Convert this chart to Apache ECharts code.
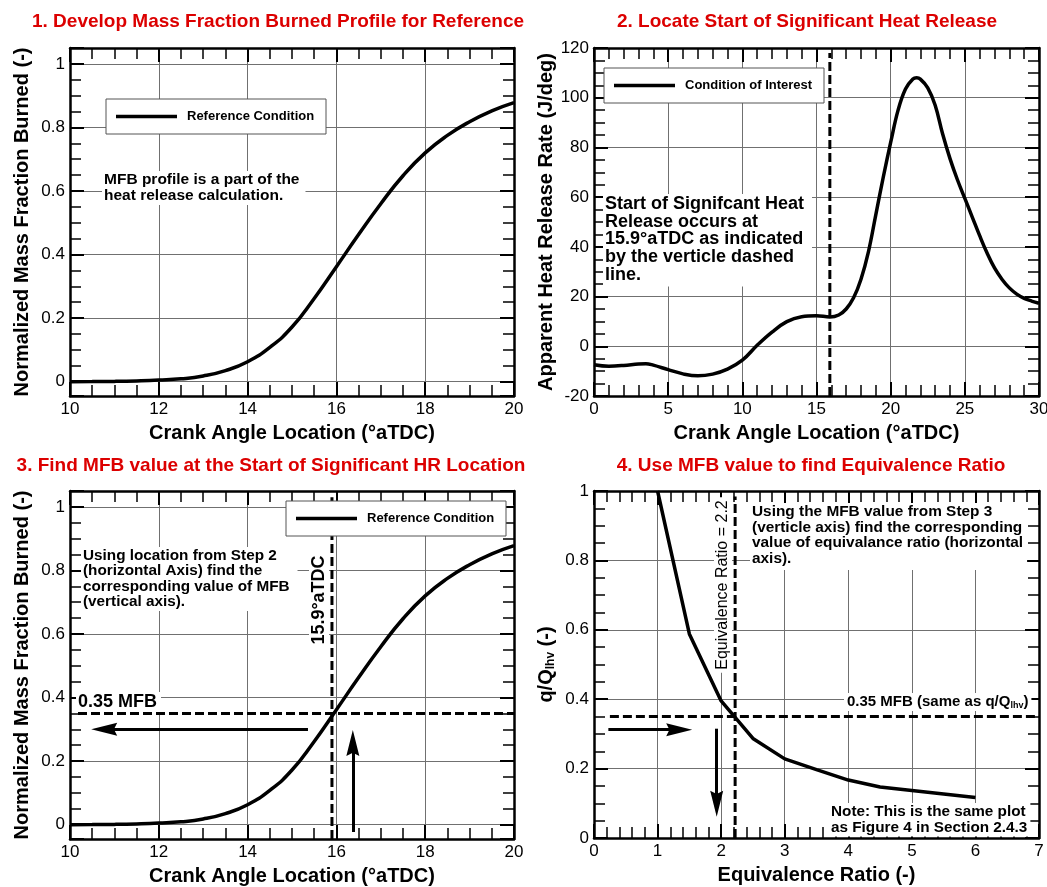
<!DOCTYPE html>
<html lang="en">
<head>
<meta charset="utf-8">
<title>MFB and Heat Release - Equivalence Ratio</title>
<script src="https://cdn.jsdelivr.net/npm/echarts@6/dist/echarts.min.js"></script>
<style>html,body{margin:0;padding:0;background:#fff;}</style>
</head>
<body>
<div id="main" style="width:1047px;height:887px;"></div>
<script type="text/javascript">
// panels 1 and 3: mass fraction burned, reference condition
var mfbAngle = [10, 10.5, 11, 11.5, 12, 12.5, 13, 13.5, 14, 14.5, 15, 15.5, 16, 16.5, 17, 17.5, 18, 18.5, 19, 19.5, 20];
var mfbValue = [0, 0.0004, 0.001, 0.0025, 0.005, 0.009, 0.018, 0.035, 0.063, 0.108, 0.172, 0.262, 0.362, 0.463, 0.56, 0.648, 0.72, 0.775, 0.818, 0.852, 0.878];

// panel 2: apparent heat release rate, condition of interest
var hrrAngle = [0, 1, 2, 3, 3.5, 4, 5, 6, 7, 8, 9, 10, 11, 12, 13, 14, 15, 15.9, 16.5, 17, 17.5, 18, 18.5, 19, 19.5, 20, 20.5, 21, 21.5, 21.75, 22, 22.5, 23, 23.5, 24, 24.5, 25, 25.5, 26, 26.5, 27, 27.5, 28, 28.5, 29, 29.5, 30];
var hrrValue = [-7.4, -8, -7.7, -7.1, -7, -7.6, -9.4, -11.1, -11.9, -11.2, -9.2, -5.6, 0.4, 5.7, 9.9, 11.9, 12.3, 11.8, 12.6, 15, 19.5, 27, 38, 53, 68, 82, 95, 103.5, 107.5, 108, 107.5, 104, 97, 85.5, 75.5, 67, 59.5, 52, 44.5, 37.5, 31.5, 27, 23.5, 21, 19.3, 18.2, 17.3];

// panel 4: q/Qlhv against equivalence ratio
var phiValue = [1, 1.5, 2, 2.5, 3, 3.5, 4, 4.5, 5, 5.5, 6];
var qRatio = [1.0, 0.588, 0.395, 0.287, 0.228, 0.197, 0.167, 0.147, 0.137, 0.127, 0.117];

// guide lines
var sohrAngle = 15.9;
var mfbAtSohr = 0.35;
var phiAtMfb = 2.22;
// arrows [x1, y1, x2, y2], the end point is the centre of the arrow head
var step3Arrows = [[15.36, 0.30, 10.77, 0.30], [16.37, -0.023, 16.37, 0.257]];
var step4Arrows = [[0.226, 0.312, 1.34, 0.312], [1.93, 0.315, 1.93, 0.099]];

var FONT = '"Liberation Sans", Arial, Helvetica, sans-serif';
var myChart = echarts.init(document.getElementById('main'));

function pairs(xs, ys) {
    return xs.map(function (x, i) { return [x, ys[i]]; });
}

function axis(grid, pos, min, max, step, minor, primary) {
    var a = {
        type: 'value', gridIndex: grid, position: pos, min: min, max: max,
        axisLine: {show: true, onZero: false, lineStyle: {color: '#000', width: 2.5}},
        axisTick: {show: true, inside: true, length: 14, lineStyle: {color: '#000', width: 2}},
        minorTick: {show: true, splitNumber: minor, length: 11, lineStyle: {color: '#000', width: 1.5}},
        splitLine: {show: primary, lineStyle: {color: '#707070', width: 1}},
        axisLabel: {show: primary, color: '#000', fontFamily: FONT, fontSize: 17, margin: 5}
    };
    if (Math.abs(min % step) < 1e-9) {
        a.interval = step;
    } else {
        a.splitNumber = 5;
        a.minInterval = step;
        a.maxInterval = step;
        a.axisLabel.formatter = function (v) {
            var r = Math.round(v / step);
            return Math.abs(v - r * step) < 1e-6 ? String(+v.toFixed(1)) : '';
        };
    }
    return a;
}

function named(a, name, gap) {
    a.name = name;
    a.nameLocation = 'middle';
    a.nameGap = gap;
    a.nameTextStyle = {color: '#000', fontFamily: FONT, fontSize: 20, fontWeight: 'bold'};
    return a;
}

function dashed(data, xi, yi) {
    return {
        type: 'line', xAxisIndex: xi, yAxisIndex: yi, data: data, symbol: 'none',
        lineStyle: {color: '#000', width: 3, type: [9, 4]}, z: 3
    };
}

function arrows(list) {
    return {
        silent: true, symbol: ['none', 'path://M5,0 L10,24 L5,21 L0,24 Z'], symbolSize: [13, 26],
        label: {show: false},
        lineStyle: {color: '#000', width: 3, type: 'solid'},
        data: list.map(function (a) { return [{coord: [a[0], a[1]]}, {coord: [a[2], a[3]]}]; })
    };
}

function note(x, y, text, size, lh, pad, weight) {
    return {
        type: 'text', x: x, y: y, z: 100,
        style: {
            text: text, fill: '#000', fontFamily: FONT, fontSize: size, fontWeight: weight || 'bold',
            lineHeight: lh, backgroundColor: '#fff', padding: pad, verticalAlign: 'top'
        }
    };
}

function vnote(x, y, text, size, weight) {
    return {
        type: 'text', x: x, y: y, z: 100, rotation: Math.PI / 2,
        style: {
            text: text, fill: '#000', fontFamily: FONT, fontSize: size, fontWeight: weight,
            backgroundColor: '#fff', padding: [1, 3], align: 'center', verticalAlign: 'middle'
        }
    };
}

function legendBox(x, y, label) {
    return [
        {type: 'rect', z: 100, shape: {x: x, y: y, width: 220, height: 35},
         style: {fill: '#fff', stroke: '#555', lineWidth: 1}},
        {type: 'line', z: 101, shape: {x1: x + 10, y1: y + 17.5, x2: x + 71, y2: y + 17.5},
         style: {stroke: '#000', lineWidth: 3.5}},
        {type: 'text', z: 101, x: x + 81, y: y + 17.5,
         style: {text: label, fill: '#000', fontFamily: FONT, fontSize: 13, fontWeight: 'bold', verticalAlign: 'middle'}}
    ];
}

var titleStyle = {color: '#dc0000', fontFamily: FONT, fontSize: 19, fontWeight: 'bold'};
var curveLine = {color: '#000', width: 3.5};

var option = {
    animation: false,
    backgroundColor: '#fff',
    title: [
        {text: '1. Develop Mass Fraction Burned Profile for Reference', left: 278, top: 12, textAlign: 'center', padding: 0, textStyle: titleStyle},
        {text: '2. Locate Start of Significant Heat Release', left: 807, top: 12, textAlign: 'center', padding: 0, textStyle: titleStyle},
        {text: '3. Find MFB value at the Start of Significant HR Location', left: 271, top: 456, textAlign: 'center', padding: 0, textStyle: titleStyle},
        {text: '4. Use MFB value to find Equivalence Ratio', left: 811, top: 456, textAlign: 'center', padding: 0, textStyle: titleStyle}
    ],
    grid: [
        {left: 70, top: 48, width: 444, height: 348, outerBoundsMode: 'none'},
        {left: 594, top: 48, width: 445, height: 348, outerBoundsMode: 'none'},
        {left: 70, top: 491, width: 444, height: 348, outerBoundsMode: 'none'},
        {left: 594, top: 491, width: 445, height: 347, outerBoundsMode: 'none'}
    ],
    xAxis: [
        named(axis(0, 'bottom', 10, 20, 2, 4, true), 'Crank Angle Location (\u00b0aTDC)', 27),
        named(axis(1, 'bottom', 0, 30, 5, 5, true), 'Crank Angle Location (\u00b0aTDC)', 27),
        named(axis(2, 'bottom', 10, 20, 2, 4, true), 'Crank Angle Location (\u00b0aTDC)', 27),
        named(axis(3, 'bottom', 0, 7, 1, 5, true), 'Equivalence Ratio (-)', 27),
        axis(0, 'top', 10, 20, 2, 4, false),
        axis(1, 'top', 0, 30, 5, 5, false),
        axis(2, 'top', 10, 20, 2, 4, false),
        axis(3, 'top', 0, 7, 1, 5, false)
    ],
    yAxis: [
        named(axis(0, 'left', -0.045, 1.05, 0.2, 4, true), 'Normalized Mass Fraction Burned (-)', 38),
        named(axis(1, 'left', -20, 120, 20, 4, true), 'Apparent Heat Release Rate (J/deg)', 38),
        named(axis(2, 'left', -0.045, 1.05, 0.2, 4, true), 'Normalized Mass Fraction Burned (-)', 38),
        named(axis(3, 'left', 0, 1, 0.2, 4, true), '{a|q/Q}{b|lhv}{a| (-)}', 36),
        axis(0, 'right', -0.045, 1.05, 0.2, 4, false),
        axis(1, 'right', -20, 120, 20, 4, false),
        axis(2, 'right', -0.045, 1.05, 0.2, 4, false),
        axis(3, 'right', 0, 1, 0.2, 4, false)
    ],
    series: [
        {name: 'Reference Condition', type: 'line', xAxisIndex: 0, yAxisIndex: 0, data: pairs(mfbAngle, mfbValue),
         symbol: 'none', smooth: 0.5, lineStyle: curveLine, z: 3},
        {name: 'Condition of Interest', type: 'line', xAxisIndex: 1, yAxisIndex: 1, data: pairs(hrrAngle, hrrValue),
         symbol: 'none', smooth: 0.4, lineStyle: curveLine, z: 3},
        dashed([[sohrAngle, -20], [sohrAngle, 118]], 1, 1),
        {name: 'Reference Condition', type: 'line', xAxisIndex: 2, yAxisIndex: 2, data: pairs(mfbAngle, mfbValue),
         symbol: 'none', smooth: 0.5, lineStyle: curveLine, z: 3,
         markLine: arrows(step3Arrows)},
        dashed([[10.18, mfbAtSohr], [20, mfbAtSohr]], 2, 2),
        dashed([[sohrAngle, -0.045], [sohrAngle, 1.03]], 2, 2),
        {name: 'q/Qlhv', type: 'line', xAxisIndex: 3, yAxisIndex: 3, data: pairs(phiValue, qRatio),
         symbol: 'none', lineStyle: curveLine, z: 3,
         markLine: arrows(step4Arrows)},
        dashed([[0.25, mfbAtSohr], [7, mfbAtSohr]], 3, 3),
        dashed([[phiAtMfb, 0], [phiAtMfb, 0.984]], 3, 3)
    ],
    graphic: [].concat(
        legendBox(106, 99, 'Reference Condition'),
        legendBox(604, 68, 'Condition of Interest'),
        legendBox(286, 501, 'Reference Condition'),
        [
            note(102, 171, 'MFB profile is a part of the\nheat release calculation.', 15.5, 16, [1, 6, 1, 2]),
            note(603, 194, 'Start of Signifcant Heat\nRelease occurs at\n15.9\u00b0aTDC as indicated\nby the verticle dashed\nline.', 18, 17.7, [1, 8, 3, 2]),
            note(81, 547, 'Using location from Step 2\n(horizontal Axis) find the\ncorresponding value of MFB\n(vertical axis).', 15.3, 15.5, [1, 8, 1, 2]),
            note(750, 503, 'Using the MFB value from Step 3\n(verticle axis) find the corresponding\nvalue of equivalance ratio (horizontal\naxis).', 15.4, 15.5, [1, 4, 4, 2]),
            note(829, 803, 'Note: This is the same plot\nas Figure 4 in Section 2.4.3', 15.3, 15.7, [1, 3, 1, 2]),
            note(76, 692, '0.35 MFB', 18, 20, [0, 4, 0, 2]),
            {type: 'text', x: 844, y: 702, z: 100,
             style: {text: '{a|0.35 MFB (same as q/Q}{b|lhv}{a|)}', fill: '#000', verticalAlign: 'middle',
                     backgroundColor: '#fff', padding: [0, 3, 0, 3],
                     rich: {a: {fontFamily: FONT, fontSize: 15, fontWeight: 'bold', lineHeight: 18},
                            b: {fontFamily: FONT, fontSize: 9, fontWeight: 'bold', padding: [8, 0, 0, 0]}}}},
            vnote(319, 600, '15.9\u00b0aTDC', 18, 'bold'),
            vnote(723, 585, 'Equivalence Ratio = 2.2', 16, 'normal')
        ]
    )
};

option.yAxis[3].nameTextStyle.rich = {
    a: {color: '#000', fontFamily: FONT, fontSize: 20, fontWeight: 'bold', lineHeight: 24},
    b: {color: '#000', fontFamily: FONT, fontSize: 12, fontWeight: 'bold', padding: [10, 0, 0, 0]}
};

option && myChart.setOption(option);
</script>
</body>
</html>
